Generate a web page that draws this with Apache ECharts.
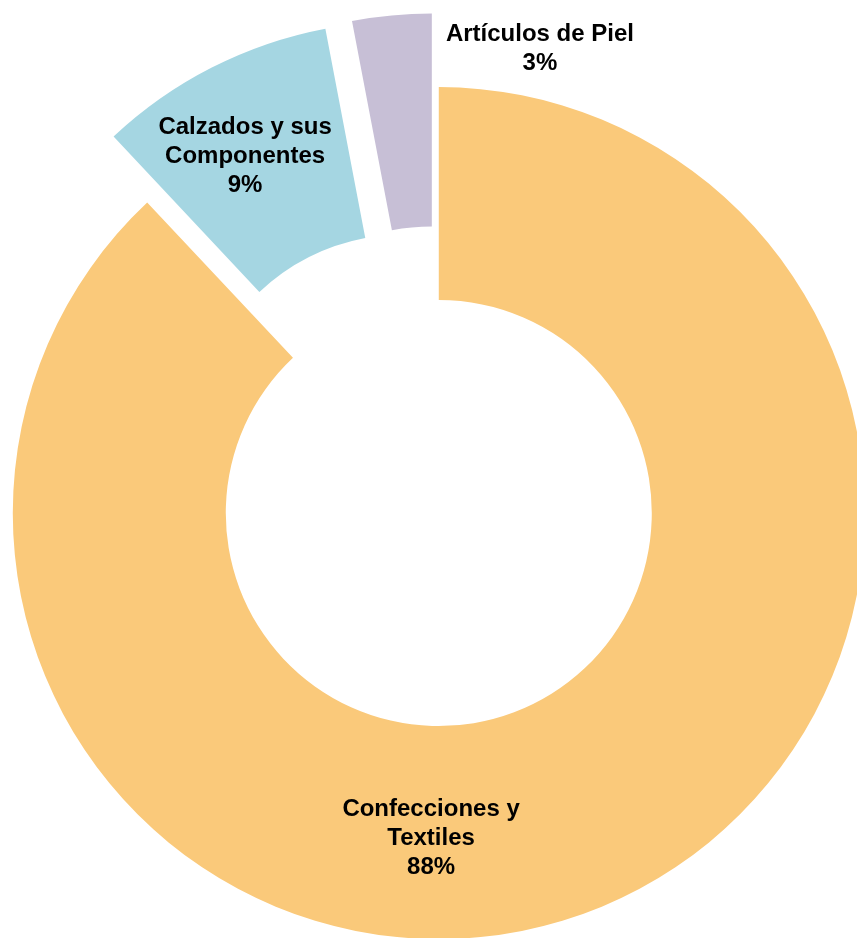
<!DOCTYPE html>
<html>
<head>
<meta charset="utf-8">
<script src="https://cdn.jsdelivr.net/npm/echarts@6/dist/echarts.min.js"></script>
<style>
  html, body { margin: 0; padding: 0; background: #ffffff; }
  #chart { width: 857px; height: 938px; }
</style>
</head>
<body>
<div id="chart"></div>
<script>
// Data
const categories = ['Confecciones y Textiles', 'Calzados y sus Componentes', 'Artículos de Piel'];
const labelLines = [['Confecciones y', 'Textiles'], ['Calzados y sus', 'Componentes'], ['Artículos de Piel']];
const values = [88, 9, 3];
const exploded = [false, true, true];
const colors = ['#FAC97A', '#A5D6E2', '#C7BFD6'];
// label anchor positions as fractions of chart width / height
const labelPosX = [0.503, 0.286, 0.630];
const labelPosY = [0.894, 0.167, 0.052];

const chart = echarts.init(document.getElementById('chart'), null, { renderer: 'canvas' });
const W = 857, H = 938;

const common = {
  type: 'pie',
  center: ['51.2%', '54.7%'],
  radius: [213, 426],
  startAngle: 90,
  clockwise: true,
  avoidLabelOverlap: false,
  emphasis: { disabled: true },
  labelLine: { show: false }
};

const option = {
  animation: false,
  backgroundColor: '#ffffff',
  series: [
    Object.assign({}, common, {
      name: 'slices',
      selectedMode: 'multiple',
      selectedOffset: 74,
      label: { show: false },
      data: categories.map(function (c, i) {
        return { name: c, value: values[i], selected: exploded[i], itemStyle: { color: colors[i] } };
      })
    }),
    Object.assign({}, common, {
      name: 'labels',
      silent: true,
      z: 5,
      itemStyle: { color: 'rgba(0,0,0,0)' },
      label: {
        show: true,
        position: 'inside',
        color: '#000000',
        fontFamily: 'Liberation Sans, Arial, Helvetica, sans-serif',
        fontWeight: 'bold',
        fontSize: 24,
        lineHeight: 29,
        align: 'center',
        verticalAlign: 'middle',
        formatter: function (p) {
          return labelLines[p.dataIndex].concat([values[p.dataIndex] + '%']).join('\n');
        }
      },
      labelLayout: function (p) {
        return { x: labelPosX[p.dataIndex] * W, y: labelPosY[p.dataIndex] * H, align: 'center', verticalAlign: 'middle' };
      },
      data: categories.map(function (c, i) {
        return { name: c, value: values[i] };
      })
    })
  ]
};
chart.setOption(option);
</script>
</body>
</html>
